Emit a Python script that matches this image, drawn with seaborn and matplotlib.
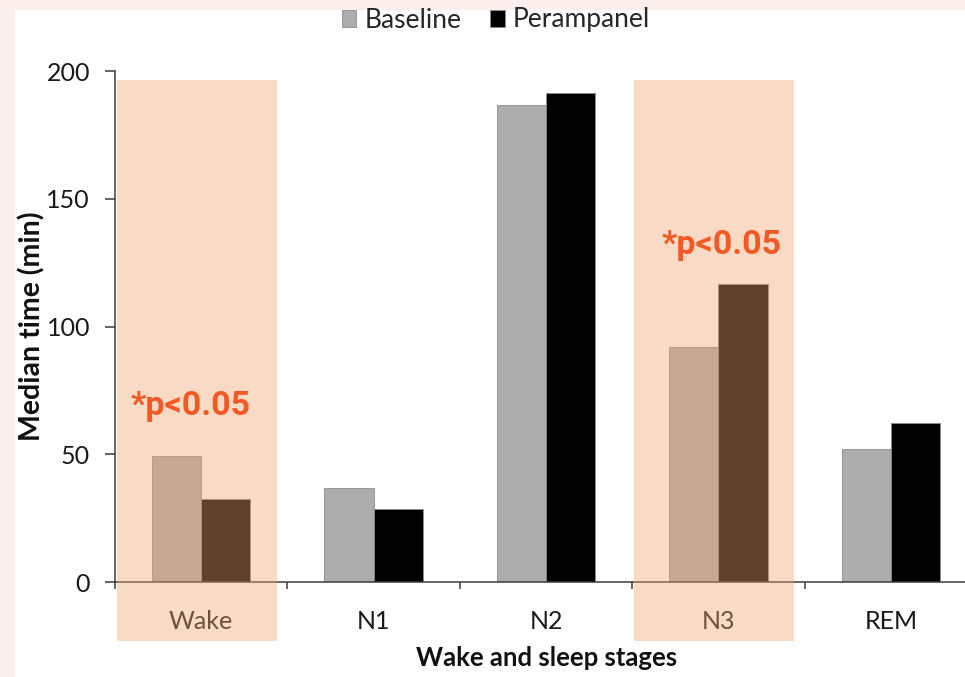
import matplotlib
matplotlib.use("Agg")
import matplotlib.pyplot as plt
import seaborn as sns
import pandas as pd
from matplotlib.patches import Rectangle

stages = ["Wake", "N1", "N2", "N3", "REM"]
baseline = [49.4, 37.0, 186.8, 92.2, 52.0]
perampanel = [32.4, 28.5, 191.4, 116.6, 62.2]
significant = ["Wake", "N3"]
sig_text = "*p<0.05"

df = pd.DataFrame({
    "stage": stages * 2,
    "time": baseline + perampanel,
    "group": ["Baseline"] * len(stages) + ["Perampanel"] * len(stages),
})

sns.set_theme(style="white")
plt.rcParams["font.family"] = ["Lato", "DejaVu Sans"]

fig = plt.figure(figsize=(9.65, 6.77), dpi=100)
fig.patch.set_facecolor("#FCEFEB")
fig.add_artist(Rectangle((15 / 965, 0), 1, 1 - 10 / 677, transform=fig.transFigure,
                         facecolor="white", edgecolor="none", zorder=-10))
ax = fig.add_axes([115 / 965, 95 / 677, 850 / 965, 510.7 / 677])
ax.patch.set_alpha(0)

sns.barplot(data=df, x="stage", y="time", hue="group", order=stages,
            palette={"Baseline": "#ADADAD", "Perampanel": "#000000"},
            width=0.57, edgecolor="#8C8C8C", linewidth=0.6, ax=ax)

ax.set_ylim(0, 200)
ax.set_xlim(-0.5, 4.43)
ax.set_yticks([0, 50, 100, 150, 200])
sns.despine(ax=ax)
for s in ["left", "bottom"]:
    ax.spines[s].set_color("#3A3A3A")
    ax.spines[s].set_linewidth(1.1)

ax.tick_params(axis="y", which="major", left=True, length=7, width=1.1,
               color="#3A3A3A", pad=11, labelsize=18, labelcolor="#1A1A1A")
ax.tick_params(axis="x", which="major", bottom=False, length=0, pad=20,
               labelsize=18, labelcolor="#1A1A1A")
ax.set_xticks([i - 0.5 for i in range(len(stages))], minor=True)
ax.tick_params(axis="x", which="minor", bottom=True, length=5, width=1.1,
               color="#3A3A3A")

ax.set_xlabel("Wake and sleep stages", fontsize=18.5, fontweight="bold", color="#111111")
ax.set_ylabel("Median time (min)", fontsize=20.5, fontweight="bold", color="#111111")
ax.xaxis.set_label_coords(0.508, -0.125)
ax.yaxis.set_label_coords(-0.082, 0.5)

handles, labels = ax.get_legend_handles_labels()
ax.get_legend().remove()
fig.legend(handles, labels, loc="center", bbox_to_anchor=(496 / 965, 1 - 20 / 677),
           ncol=2, frameon=False, fontsize=19, handlelength=0.55, handleheight=0.6,
           handletextpad=0.3, columnspacing=1.1)

# highlighted stages
for st in significant:
    i = stages.index(st)
    ax.add_patch(Rectangle((i - 0.49, -23), 0.93, 219.5, facecolor="#F0A46D",
                           alpha=0.4, edgecolor="none", zorder=5, clip_on=False))

sig_font = ["Roboto", "DejaVu Sans"]
ax.text(stages.index("Wake") - 0.06, 69, sig_text, color="#F15A24", fontsize=24.5,
        fontweight="bold", family=sig_font, ha="center", va="center", zorder=10)
ax.text(stages.index("N3") + 0.02, 132, sig_text, color="#F15A24", fontsize=24.5,
        fontweight="bold", family=sig_font, ha="center", va="center", zorder=10)

fig.savefig("out.png", dpi=100, facecolor=fig.get_facecolor())
